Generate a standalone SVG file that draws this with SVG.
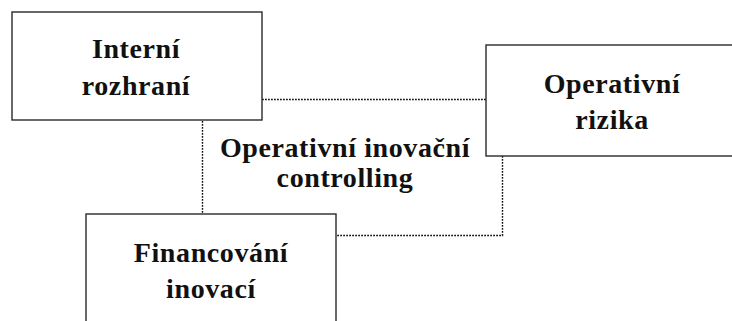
<svg xmlns="http://www.w3.org/2000/svg" width="732" height="321" viewBox="0 0 732 321">
  <style>
    .box { fill: #ffffff; stroke: #2a2a2a; stroke-width: 1.4; }
    .link { fill: none; stroke: #111111; stroke-width: 1.4; stroke-dasharray: 1.8 1.2; }
    .label { font-family: "Liberation Serif", "DejaVu Serif", serif; font-weight: bold; font-size: 28px; fill: #111111; text-anchor: middle; letter-spacing: 0.6px; }
  </style>
  <rect width="732" height="321" fill="#ffffff"/>

  <g id="connectors">
    <path class="link" d="M262 99.5 H486"/>
    <path class="link" d="M202.5 121 V213"/>
    <path class="link" d="M502.5 156 V235.5 H337"/>
  </g>

  <g id="interni-rozhrani">
    <rect class="box" x="12" y="12" width="250" height="108"/>
    <text class="label" x="136" y="58">Interní</text>
    <text class="label" x="136" y="95">rozhraní</text>
  </g>

  <g id="operativni-rizika">
    <rect class="box" x="486" y="45" width="260" height="111"/>
    <text class="label" x="612" y="93">Operativní</text>
    <text class="label" x="612" y="129">rizika</text>
  </g>

  <g id="operativni-inovacni-controlling">
    <text class="label" x="345" y="157">Operativní inovační</text>
    <text class="label" x="345" y="187">controlling</text>
  </g>

  <g id="financovani-inovaci">
    <rect class="box" x="86" y="214" width="250" height="120"/>
    <text class="label" x="211" y="262">Financování</text>
    <text class="label" x="211" y="298">inovací</text>
  </g>
</svg>
